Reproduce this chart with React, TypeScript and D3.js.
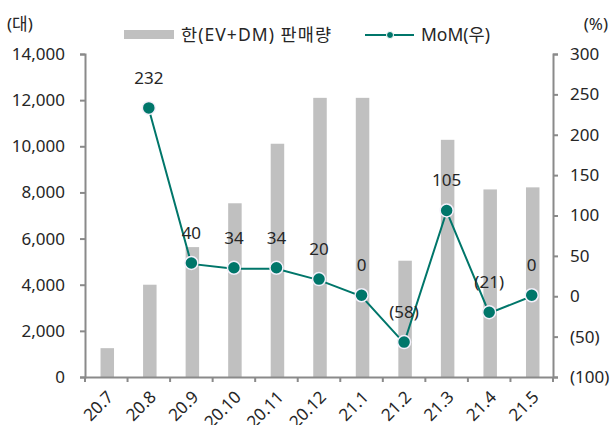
import React, { useEffect, useRef } from 'react';
import * as d3 from 'd3';

const months = ['20.7', '20.8', '20.9', '20.10', '20.11', '20.12', '21.1', '21.2', '21.3', '21.4', '21.5'];
const sales = [1250, 4000, 5630, 7530, 10110, 12100, 12100, 5040, 10280, 8130, 8220];
const mom: (number | null)[] = [null, 232, 40, 34, 34, 20, 0, -58, 105, -21, 0];
const leftTicks = [0, 2000, 4000, 6000, 8000, 10000, 12000, 14000];
const rightTicks = [-100, -50, 0, 50, 100, 150, 200, 250, 300];

const W = 611;
const H = 425;
const FONT = '"Noto Sans", "Noto Sans CJK KR", sans-serif';
const BAR = '#c0c0c0';
const LINE = '#00766a';
const AXIS = '#8a8a8a';
const TXT = '#262626';
const FS = 17;

const fmtPct = (v: number) => (v < 0 ? `(${Math.abs(v)})` : `${v}`);

const App: React.FC = () => {
  const svgRef = useRef<SVGSVGElement>(null);

  useEffect(() => {
    if (!svgRef.current) return;
    const svg = d3.select(svgRef.current);
    svg.selectAll('*').remove();

    const left = 85, right = 553, top = 54, bottom = 377;

    const x = d3.scaleBand().domain(months).range([left, right]).paddingInner(0).paddingOuter(0);
    const yL = d3.scaleLinear().domain([0, 14000]).range([bottom, top]);
    const yR = d3.scaleLinear().domain([-100, 300]).range([bottom, top]);
    const barW = 13.5;

    // bars
    svg.append('g')
      .selectAll('rect')
      .data(sales)
      .enter().append('rect')
      .attr('x', (_d, i) => x(months[i])! + x.bandwidth() / 2 - barW / 2 + 1)
      .attr('width', barW)
      .attr('y', d => yL(d))
      .attr('height', d => bottom - yL(d))
      .attr('fill', BAR);

    // axes
    const axisG = svg.append('g').attr('font-family', FONT);
    const leftAxis = axisG.append('g').attr('transform', `translate(${left},0)`)
      .call(d3.axisLeft(yL).tickValues(leftTicks).tickSize(5).tickPadding(15).tickFormat(d => d3.format(',')(d as number)));
    const rightAxis = axisG.append('g').attr('transform', `translate(${right},0)`)
      .call(d3.axisRight(yR).tickValues(rightTicks).tickSize(5).tickPadding(12).tickFormat(d => fmtPct(d as number)));
    const bottomAxis = axisG.append('g').attr('transform', `translate(0,${bottom})`)
      .call(d3.axisBottom(x).tickSize(0).tickFormat(() => ''));

    [leftAxis, rightAxis, bottomAxis].forEach(a => {
      a.select('.domain').attr('stroke', AXIS).attr('stroke-width', 2);
      a.selectAll('.tick line').attr('stroke', AXIS).attr('stroke-width', 2);
      a.selectAll('.tick text').attr('fill', TXT).style('font-size', `${FS}px`).style('font-family', FONT);
    });

    // bottom category boundary ticks
    const bounds = months.map(m => x(m)!).concat([right]);
    bottomAxis.selectAll('.bnd')
      .data(bounds)
      .enter().append('line')
      .attr('x1', d => d).attr('x2', d => d)
      .attr('y1', 0).attr('y2', 5)
      .attr('stroke', AXIS).attr('stroke-width', 2);

    // x labels
    svg.append('g')
      .selectAll('text')
      .data(months)
      .enter().append('text')
      .attr('transform', d => `translate(${x(d)! + x.bandwidth() / 2 + 4},${bottom + 17}) rotate(-45)`)
      .attr('text-anchor', 'end')
      .attr('dy', '0.35em')
      .attr('font-family', FONT)
      .attr('font-size', FS)
      .attr('fill', TXT)
      .text(d => d);

    // MoM line
    const pts = mom.map((v, i) => ({ m: months[i], v })).filter(p => p.v !== null) as { m: string; v: number }[];
    const cx = (m: string) => x(m)! + x.bandwidth() / 2;
    const line = d3.line<{ m: string; v: number }>().x(d => cx(d.m)).y(d => yR(d.v));
    svg.append('path')
      .datum(pts)
      .attr('d', line)
      .attr('fill', 'none')
      .attr('stroke', LINE)
      .attr('stroke-width', 2);

    svg.append('g')
      .selectAll('circle')
      .data(pts)
      .enter().append('circle')
      .attr('cx', d => cx(d.m))
      .attr('cy', d => yR(d.v) - 1)
      .attr('r', 6.5)
      .attr('fill', LINE)
      .attr('stroke', '#f4f0fb')
      .attr('stroke-width', 1.5);

    svg.append('g')
      .selectAll('text')
      .data(pts)
      .enter().append('text')
      .attr('x', d => cx(d.m))
      .attr('y', d => yR(d.v) - 31)
      .attr('text-anchor', 'middle')
      .attr('dy', '0.35em')
      .attr('font-family', FONT)
      .attr('font-size', FS)
      .attr('fill', TXT)
      .text(d => fmtPct(d.v));

    // unit labels
    svg.append('text').attr('x', 7).attr('y', 24).attr('dy', '0.35em')
      .attr('font-family', FONT).attr('font-size', FS).attr('fill', TXT).text('(대)');
    svg.append('text').attr('x', 608).attr('y', 24).attr('dy', '0.35em').attr('text-anchor', 'end')
      .attr('font-family', FONT).attr('font-size', FS).attr('fill', TXT).text('(%)');

    // legend
    const lg = svg.append('g').attr('font-family', FONT).attr('font-size', 17.5).attr('fill', TXT);
    lg.append('rect').attr('x', 124).attr('y', 30).attr('width', 50).attr('height', 9).attr('fill', BAR);
    lg.append('text').attr('x', 181).attr('y', 35).attr('dy', '0.35em').attr('textLength', 150).text('한(EV+DM) 판매량');
    lg.append('line').attr('x1', 365).attr('x2', 414).attr('y1', 35).attr('y2', 35)
      .attr('stroke', LINE).attr('stroke-width', 2);
    lg.append('circle').attr('cx', 390).attr('cy', 35).attr('r', 3.5).attr('fill', LINE)
      .attr('stroke', '#fff').attr('stroke-width', 1);
    lg.append('text').attr('x', 421).attr('y', 35).attr('dy', '0.35em').text('MoM(우)');
  }, []);

  return (
    <svg ref={svgRef} width={W} height={H}
      style={{ position: 'absolute', left: 0, top: 0, background: '#fff' }} />
  );
};

export default App;
